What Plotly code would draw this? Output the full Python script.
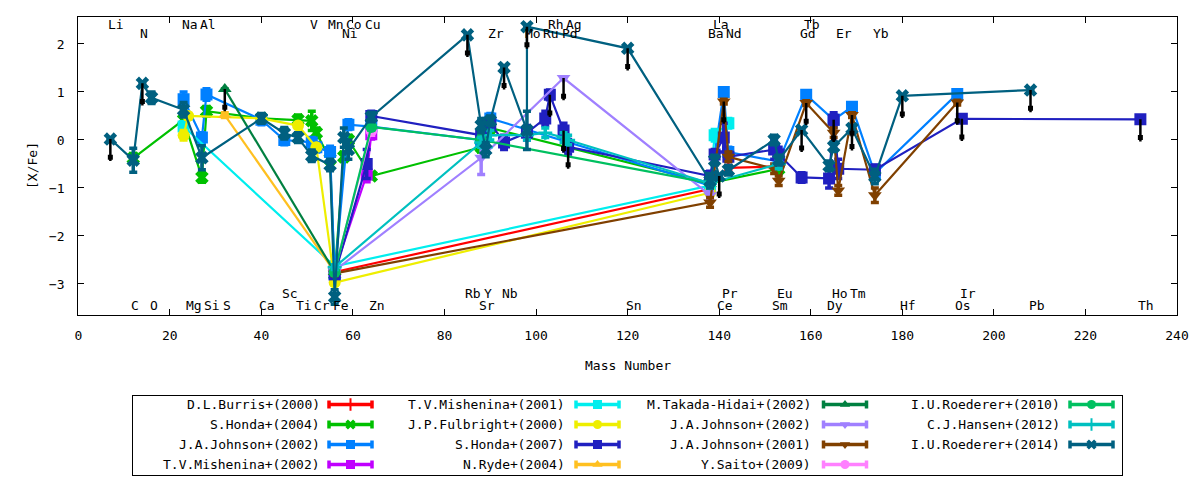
import plotly.graph_objects as go

# ─── mass number used for each element (x position) ──────────────────────────
MASS = {
    "Li": 7, "C": 12, "N": 14, "O": 16, "Na": 23, "Mg": 24, "Al": 27,
    "Si": 28, "S": 32, "Ca": 40, "Sc": 45, "Ti": 48, "V": 51, "Cr": 52,
    "Mn": 55, "Fe": 56, "Ni": 58, "Co": 59, "Cu": 63, "Zn": 64, "Rb": 85,
    "Sr": 88, "Y": 89, "Zr": 90, "Nb": 93, "Mo": 98, "Tc": 98, "Ru": 102,
    "Rh": 103, "Pd": 106, "Ag": 107, "Sn": 120, "Ba": 138, "La": 139,
    "Ce": 140, "Pr": 141, "Nd": 142, "Sm": 152, "Eu": 153, "Gd": 158,
    "Tb": 159, "Dy": 164, "Ho": 165, "Er": 166, "Tm": 169, "Yb": 174,
    "Hf": 180, "Os": 192, "Ir": 193, "Pb": 208, "Th": 232,
}

# element names written along the top / bottom of the frame
top_hi = ["Li", "Na", "Al", "V", "Mn", "Co", "Cu", "Rh", "Ag", "La", "Tb"]
top_lo = ["N", "Ni", "Zr", "Mo", "Ru", "Pd", "Ba", "Nd", "Gd", "Er", "Yb"]
bot_hi = ["Sc", "Rb", "Y", "Nb", "Pr", "Eu", "Ho", "Tm", "Ir"]
bot_lo = ["C", "O", "Mg", "Si", "S", "Ca", "Ti", "Cr", "Fe", "Zn", "Sr",
          "Sn", "Ce", "Sm", "Dy", "Hf", "Os", "Pb", "Th"]

# ─── data: [X/Fe] (Fe itself is [Fe/H]) ──────────────────────────────────────
burris_el = ["Fe", "Ba", "Nd", "Eu"]
burris_val = [-2.75, -1.02, -0.58, -0.55]
burris_err = [0.05, 0.05, 0.05, 0.05]
burris_ul = [0, 0, 0, 0]

honda04_el = ["C", "Na", "Al", "Si", "Ca", "Ti", "V", "Cr", "Mn", "Fe", "Ni",
              "Co", "Zn", "Sr", "Y", "Zr", "Ba", "Eu"]
honda04_val = [-0.38, 0.42, -0.78, 0.6, 0.45, 0.42, 0.4, 0.15, -0.4, -2.8,
               -0.35, 0.0, -0.75, -0.15, 0.05, 0.25, -0.9, -0.6]
honda04_err = [0.1, 0.1, 0.1, 0.1, 0.05, 0.1, 0.2, 0.1, 0.1, 0.05, 0.1,
               0.1, 0.05, 0.1, 0.1, 0.1, 0.1, 0.1]
honda04_ul = [0] * 18

johnson02a_el = ["Na", "Al", "Si", "Ca", "Sc", "V", "Cr", "Mn", "Fe", "Co",
                 "Zn", "Sr", "Y", "Zr", "Ba", "Pr", "Nd", "Eu", "Tb", "Ho",
                 "Tm", "Yb", "Os"]
johnson02a_val = [0.85, 0.05, 0.95, 0.42, 0.0, -0.05, -0.15, -0.25, -2.8,
                  0.32, 0.28, 0.0, 0.35, 0.45, -0.95, 1.0, -0.25, -0.45,
                  0.94, 0.42, 0.69, -0.7, 0.96]
johnson02a_err = [0.15, 0.1, 0.12, 0.1, 0.1, 0.1, 0.1, 0.12, 0.05, 0.1,
                  0.05, 0.1, 0.1, 0.1, 0.1, 0.05, 0.1, 0.1, 0.05, 0.1,
                  0.05, 0.1, 0.05]
johnson02a_ul = [0] * 23

mishenina02_el = ["Fe", "Cu", "Zn"]
mishenina02_val = [-2.72, -0.72, 0.12]
mishenina02_err = [0.05, 0.15, 0.1]
mishenina02_ul = [0, 0, 0]

mishenina01_el = ["Na", "Fe", "Ba", "La", "Nd"]
mishenina01_val = [0.28, -2.63, -0.95, 0.1, 0.35]
mishenina01_err = [0.1, 0.05, 0.1, 0.12, 0.1]
mishenina01_ul = [0, 0, 0, 0, 0]

fulbright_el = ["Na", "Mg", "Ca", "Ti", "Cr", "Fe", "Ba"]
fulbright_val = [0.1, 0.5, 0.45, 0.3, -0.15, -2.97, -1.1]
fulbright_err = [0.1, 0.05, 0.05, 0.05, 0.05, 0.05, 0.05]
fulbright_ul = [0] * 7

honda07_el = ["Fe", "Cu", "Zn", "Sr", "Y", "Zr", "Nb", "Mo", "Ru", "Rh", "Pd",
              "Ag", "Ba", "La", "Pr", "Nd", "Sm", "Eu", "Gd", "Dy", "Ho", "Er",
              "Yb", "Ir", "Th"]
honda07_val = [-2.8, -0.5, 0.5, 0.1, 0.3, 0.35, -0.05, 0.15, 0.45, 0.94, 0.2,
               -0.14, -0.75, -0.3, 0.05, -0.35, -0.2, -0.3, -0.78, -0.8, 0.42,
               -0.6, -0.62, 0.44, 0.43]
honda07_err = [0.05, 0.3, 0.1, 0.1, 0.1, 0.1, 0.15, 0.15, 0.15, 0.1, 0.15,
               0.15, 0.1, 0.1, 0.3, 0.1, 0.2, 0.15, 0.1, 0.2, 0.15, 0.2,
               0.1, 0.05, 0.05]
honda07_ul = [0, 0, 0, 0, 0, 0, 0, 0, 0, 1, 1,
              1, 0, 0, 0, 0, 0, 0, 0, 0, 1, 0,
              0, 1, 1]

ryde_el = ["S", "Fe"]
ryde_val = [0.52, -2.75]
ryde_err = [0.05, 0.05]
ryde_ul = [0, 0]

takada_el = ["S", "Fe"]
takada_val = [1.06, -2.75]
takada_err = [0.0, 0.05]
takada_ul = [1, 0]

johnson02b_el = ["Fe", "Sr", "Pd", "Ba"]
johnson02b_val = [-2.72, -0.37, 1.29, -1.15]
johnson02b_err = [0.05, 0.35, 0.0, 0.1]
johnson02b_ul = [0, 0, 1, 0]

johnson01_el = ["Fe", "Ba", "Pr", "Nd", "Sm", "Eu", "Tb", "Ho", "Er", "Tm",
                "Yb", "Os"]
johnson01_val = [-2.78, -1.3, 0.8, -0.35, -0.6, -0.85, 0.77, 0.15, -1.05,
                 0.52, -1.15, 0.78]
johnson01_err = [0.05, 0.1, 0.05, 0.1, 0.1, 0.1, 0.05, 0.1, 0.1, 0.05,
                 0.15, 0.05]
johnson01_ul = [0, 0, 1, 0, 0, 0, 1, 0, 0, 1, 0, 1]

saito_el = ["Fe", "Zn"]
saito_val = [-2.72, 0.2]
saito_err = [0.05, 0.1]
saito_ul = [0, 0]

roederer10_el = ["Fe", "Zn", "Sr", "Ba"]
roederer10_val = [-2.75, 0.27, 0.0, -0.9]
roederer10_err = [0.05, 0.05, 0.1, 0.1]
roederer10_ul = [0, 0, 0, 0]

hansen_el = ["Fe", "Sr", "Y", "Zr", "Mo", "Ru", "Pd", "Ag", "Ba", "Eu"]
hansen_val = [-2.65, -0.05, -0.15, 0.1, 0.1, 0.15, 0.05, 0.0, -0.9, -0.5]
hansen_err = [0.05, 0.1, 0.1, 0.1, 0.1, 0.1, 0.1, 0.1, 0.1, 0.1]
hansen_ul = [0] * 10

roederer14_el = ["Li", "C", "N", "O", "Na", "Al", "Ca", "Sc", "Ti", "V", "Mn",
                 "Fe", "Ni", "Co", "Zn", "Rb", "Sr", "Y", "Zr", "Nb", "Mo",
                 "Tc", "Sn", "Ba", "La", "Ce", "Nd", "Sm", "Eu", "Gd", "Dy",
                 "Ho", "Tm", "Yb", "Hf", "Pb"]
roederer14_val = [0.02, -0.42, 1.18, 0.88, 0.63, -0.37, 0.45, 0.14, 0.05,
                  -0.33, -0.52, -3.27, 0.05, -0.2, 0.48, 2.19, 0.3, -0.2,
                  0.4, 1.51, 0.2, 2.36, 1.91, -0.85, -0.42, -0.75, -0.63,
                  0.0, -0.42, 0.21, -0.54, -0.14, 0.24, -0.76, 0.92, 1.04]
roederer14_err = [0.0, 0.25, 0.0, 0.12, 0.15, 0.25, 0.1, 0.12, 0.1,
                  0.12, 0.12, 0.15, 0.2, 0.2, 0.1, 0.0, 0.15, 0.15,
                  0.1, 0.0, 0.4, 0.0, 0.0, 0.15, 0.1, 0.0, 0.1,
                  0.1, 0.1, 0.0, 0.1, 0.1, 0.0, 0.15, 0.0, 0.0]
roederer14_ul = [1, 0, 1, 0, 0, 0, 0, 0, 0,
                 0, 0, 0, 0, 0, 0, 1, 0, 0,
                 0, 1, 0, 1, 1, 0, 0, 1, 0,
                 0, 0, 1, 0, 0, 1, 0, 1, 1]

# (legend label, colour, marker symbol, elements, values, errors, upper limits)
SERIES = [
    ("D.L.Burris+(2000)", "#ff0000", "line-ns", burris_el, burris_val, burris_err, burris_ul),
    ("S.Honda+(2004)", "#00c000", "x", honda04_el, honda04_val, honda04_err, honda04_ul),
    ("J.A.Johnson+(2002)", "#0080ff", "square", johnson02a_el, johnson02a_val, johnson02a_err, johnson02a_ul),
    ("T.V.Mishenina+(2002)", "#c000ff", "square", mishenina02_el, mishenina02_val, mishenina02_err, mishenina02_ul),
    ("T.V.Mishenina+(2001)", "#00eeee", "square", mishenina01_el, mishenina01_val, mishenina01_err, mishenina01_ul),
    ("J.P.Fulbright+(2000)", "#eeee00", "circle", fulbright_el, fulbright_val, fulbright_err, fulbright_ul),
    ("S.Honda+(2007)", "#2020c0", "square", honda07_el, honda07_val, honda07_err, honda07_ul),
    ("N.Ryde+(2004)", "#ffc020", "triangle-up", ryde_el, ryde_val, ryde_err, ryde_ul),
    ("M.Takada-Hidai+(2002)", "#008040", "triangle-up", takada_el, takada_val, takada_err, takada_ul),
    ("J.A.Johnson+(2002)", "#a080ff", "triangle-down", johnson02b_el, johnson02b_val, johnson02b_err, johnson02b_ul),
    ("J.A.Johnson+(2001)", "#804000", "triangle-down", johnson01_el, johnson01_val, johnson01_err, johnson01_ul),
    ("Y.Saito+(2009)", "#ff80ff", "circle", saito_el, saito_val, saito_err, saito_ul),
    ("I.U.Roederer+(2010)", "#00c060", "circle", roederer10_el, roederer10_val, roederer10_err, roederer10_ul),
    ("C.J.Hansen+(2012)", "#00c0c0", "cross-thin", hansen_el, hansen_val, hansen_err, hansen_ul),
    ("I.U.Roederer+(2014)", "#006080", "x", roederer14_el, roederer14_val, roederer14_err, roederer14_ul),
]

FONT = "DejaVu Sans Mono"
W, H = 1200, 480
PLOT_L, PLOT_R, PLOT_T, PLOT_B = 78.3, 1177.0, 17.3, 315.0   # px
LEG_L, LEG_R, LEG_T, LEG_B = 133.3, 1121.7, 395.7, 475.0     # px
ARROW_LEN = 0.46

fig = go.Figure()

# ── data series ──────────────────────────────────────────────────────────────
arrow_x, arrow_y, head_x, head_y = [], [], [], []
for name, color, sym, els, vals, errs, uls in SERIES:
    xs = [MASS[e] for e in els]
    thin = "thin" in sym or "line" in sym
    fig.add_trace(go.Scatter(
        x=xs, y=vals, mode="lines+markers", name=name,
        line=dict(color=color, width=2.2),
        marker=dict(symbol=sym, size=12 if not thin else 10, color=color,
                    line=dict(color=color, width=2.5 if thin else 0)),
        error_y=dict(type="data", array=errs, color=color, thickness=3.5, width=4),
        showlegend=False, hoverinfo="skip",
    ))
    for x, v, u in zip(xs, vals, uls):
        if u:
            arrow_x += [x, x, None]
            arrow_y += [v, v - ARROW_LEN, None]
            head_x.append(x)
            head_y.append(v - ARROW_LEN * 0.82)

# upper-limit arrows
fig.add_trace(go.Scatter(
    x=arrow_x, y=arrow_y, mode="lines", line=dict(color="black", width=2.5),
    showlegend=False, hoverinfo="skip",
))
fig.add_trace(go.Scatter(
    x=head_x, y=head_y, mode="markers",
    marker=dict(symbol="square", size=5, color="black"),
    showlegend=False, hoverinfo="skip",
))

# ── element names ────────────────────────────────────────────────────────────
for names, yv in ((top_hi, 2.40), (top_lo, 2.21), (bot_hi, -3.19), (bot_lo, -3.44)):
    for n in names:
        fig.add_annotation(
            x=MASS[n], y=yv, xref="x", yref="y", text=n, showarrow=False,
            xanchor="left", yanchor="middle", xshift=-4,
            font=dict(family=FONT, size=13, color="black"),
        )

# ── legend (drawn in its own pixel-scaled axis) ──────────────────────────────
col_text = [322, 567, 813, 1062]
col_mid = [350.5, 597.5, 845, 1091.5]
row_y = [404.5, 424.5, 444.5, 464.5]
for i, (name, color, sym, *_rest) in enumerate(SERIES):
    c, r = divmod(i, 4)
    thin = "thin" in sym or "line" in sym
    fig.add_trace(go.Scatter(
        x=[col_mid[c]], y=[row_y[r]], xaxis="x2", yaxis="y2",
        mode="markers",
        marker=dict(symbol=sym, size=9, color=color,
                    line=dict(color=color, width=2 if thin else 0)),
        error_x=dict(type="constant", value=21.5, color=color, thickness=3.5, width=4),
        showlegend=False, hoverinfo="skip",
    ))
    fig.add_annotation(
        x=col_text[c], y=row_y[r], xref="x2", yref="y2", text=name,
        showarrow=False, xanchor="right", yanchor="middle",
        font=dict(family=FONT, size=13, color="black"),
    )

# ── axis titles ──────────────────────────────────────────────────────────────
fig.add_annotation(x=(PLOT_L + PLOT_R) / 2 / W, y=1 - 365 / H, xref="paper", yref="paper",
                   text="Mass Number", showarrow=False,
                   xanchor="center", yanchor="middle",
                   font=dict(family=FONT, size=13, color="black"))
fig.add_annotation(x=32 / W, y=1 - 166 / H, xref="paper", yref="paper",
                   text="[X/Fe]", showarrow=False, textangle=-90,
                   xanchor="center", yanchor="middle",
                   font=dict(family=FONT, size=13, color="black"))

axis_common = dict(
    showgrid=False, zeroline=False, showline=True, linecolor="black",
    linewidth=1, mirror="allticks", ticks="inside", ticklen=6,
    tickcolor="black", tickfont=dict(family=FONT, size=13, color="black"),
)

fig.update_layout(
    width=W, height=H, autosize=False,
    margin=dict(l=0, r=0, t=0, b=0, pad=0, autoexpand=False),
    paper_bgcolor="white", plot_bgcolor="white",
    showlegend=False,
    xaxis=dict(domain=[PLOT_L / W, PLOT_R / W], range=[0, 240], dtick=20,
               tick0=0, ticklabelstandoff=8, automargin=False, **axis_common),
    yaxis=dict(domain=[1 - PLOT_B / H, 1 - PLOT_T / H], range=[-3.646, 2.556],
               dtick=1, tick0=0, ticklabelstandoff=10, automargin=False, **axis_common),
    xaxis2=dict(domain=[LEG_L / W, LEG_R / W], range=[LEG_L, LEG_R],
                anchor="y2", showgrid=False, zeroline=False, showticklabels=False,
                showline=True, mirror=True, linecolor="black", linewidth=1, ticks="",
                automargin=False),
    yaxis2=dict(domain=[1 - LEG_B / H, 1 - LEG_T / H], range=[LEG_B, LEG_T],
                anchor="x2", showgrid=False, zeroline=False, showticklabels=False,
                showline=True, mirror=True, linecolor="black", linewidth=1, ticks="",
                automargin=False),
)

# the page's default body margin and scrollbars would shift / squeeze the figure
fig.write_html(
    "out.html",
    config={"responsive": False, "displayModeBar": False},
    post_script="document.body.style.margin='0';document.body.style.overflow='hidden';",
)
